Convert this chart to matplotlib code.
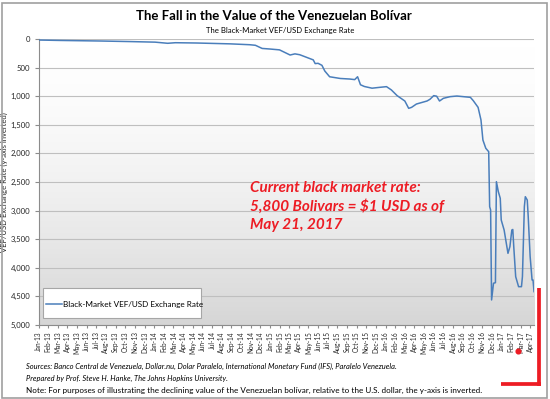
import numpy as np
import matplotlib.pyplot as plt
from matplotlib.patches import Rectangle
from matplotlib.lines import Line2D
from matplotlib.colors import LinearSegmentedColormap
from matplotlib.ticker import FuncFormatter, MultipleLocator

plt.rcParams['font.family'] = ['Lato', 'DejaVu Sans']

# tick labels: Jan-13 ... Apr-17
month_names = ['Jan', 'Feb', 'Mar', 'Apr', 'May', 'Jun',
               'Jul', 'Aug', 'Sep', 'Oct', 'Nov', 'Dec']
years = ['13', '14', '15', '16', '17']
tick_labels = [f"{m}-{y}" for y in years for m in month_names][:52]

# months since Jan-2013, and black-market rate (VEF per USD)
months = [0.0, 2.2, 6.4, 9.5, 12.1, 13.4, 14.2, 16.4, 19.9, 21.9,
          22.5, 23.2, 24.0, 25.0, 26.1, 26.6, 27.1, 28.5, 28.7, 29.0,
          29.4, 29.7, 30.2, 31.3, 32.3, 32.8, 33.1, 33.4, 33.8, 34.6,
          35.4, 36.1, 36.6, 37.2, 38.0, 38.4, 38.7, 39.2, 40.3, 40.6,
          41.0, 41.3, 41.6, 42.0, 42.7, 43.4, 44.8, 45.1, 45.6, 45.9,
          46.1, 46.4, 46.7, 46.8, 46.9, 47.0, 47.2, 47.4, 47.5, 47.7,
          47.9, 48.0, 48.3, 48.5, 48.7, 48.9, 49.1, 49.2, 49.3, 49.5,
          49.8, 50.1, 50.2, 50.4, 50.5, 50.7, 50.8, 51.0, 51.2, 51.3,
          51.4]
rate = [18, 25, 35, 45, 55, 75, 65, 70, 85, 100,
        110, 165, 175, 190, 280, 260, 275, 365, 430, 425,
        460, 560, 660, 690, 700, 710, 660, 800, 830, 860,
        845, 833, 890, 990, 1084, 1212, 1195, 1137, 1084, 1055,
        990, 1000, 1084, 1037, 1008, 997, 1020, 1078, 1195, 1416,
        1766, 1911, 1970, 2931, 2990, 4562, 4270, 4260, 2494, 2669,
        2785, 3164, 3339, 3543, 3747, 3630, 3339, 3330, 3630, 4155,
        4330, 4330, 4155, 2931, 2757, 2815, 3106, 3805, 4213, 4213,
        4417]

W, H = 550, 399
fig = plt.figure(figsize=(5.5, 3.99), dpi=100)
ax = fig.add_axes([38.5 / W, 1 - 325 / H, (534 - 38.5) / W, (325 - 39) / H])

# background gradient of the plot area
grad = np.linspace(0, 1, 256).reshape(-1, 1) ** 1.6
cmap = LinearSegmentedColormap.from_list('bg', ['#ffffff', '#d6d6d6'])
ax.imshow(grad, cmap=cmap, extent=[0, 1, 0, 1], transform=ax.transAxes,
          aspect='auto', zorder=0)

ax.plot(months, rate, color='#4a7ebb', lw=1.1, zorder=3,
        label='Black-Market VEF/USD Exchange Rate')

ax.set_xlim(0, 51.4)
ax.set_ylim(5000, 0)
ax.yaxis.set_major_locator(MultipleLocator(500))
ax.yaxis.set_major_formatter(FuncFormatter(lambda v, p: f"{int(v):,}"))
ax.grid(axis='y', color='#bfbfbf', lw=0.8, zorder=1)
ax.set_axisbelow(True)

ax.set_xticks(range(52))
ax.set_xticklabels(tick_labels, rotation=90, fontsize=4.7, color='#262626')
ax.tick_params(axis='x', length=2.5, color='#8c8c8c', pad=2)
ax.tick_params(axis='y', length=3, color='#8c8c8c', labelsize=5.6,
               labelcolor='#262626', pad=3)
for s in ['top', 'right']:
    ax.spines[s].set_visible(False)
for s in ['left', 'bottom']:
    ax.spines[s].set_color('#8c8c8c')
    ax.spines[s].set_linewidth(0.8)

ax.set_ylabel('VEF/USD Exchange Rate (y-axis inverted)', fontsize=5.5,
              color='#262626', labelpad=2)
ax.yaxis.set_label_coords(-31 / 495.5, 0.5)

# legend: white box, frameless legend inside
ax.add_patch(Rectangle((0.0097, 0.0245), 0.318, 0.104, transform=ax.transAxes,
                       facecolor='white', edgecolor='#a6a6a6', lw=0.8, zorder=4))
leg = ax.legend(loc='center left', bbox_to_anchor=(0.0151, 0.0734),
                fontsize=5.85, frameon=False, handlelength=2.0,
                handletextpad=0.1, borderpad=0, borderaxespad=0)
leg.set_zorder(5)

# titles
fig.text(274 / W, 1 - 16.5 / H, 'The Fall in the Value of the Venezuelan Bolívar',
         ha='center', va='center', fontsize=9.5, fontweight='bold', color='#000000')
fig.text(280 / W, 1 - 31 / H, 'The Black-Market VEF/USD Exchange Rate',
         ha='center', va='center', fontsize=5.6, color='#000000')

# red annotation
red = '#ed1c24'
ann = ['Current black market rate:',
       '5,800 Bolivars = $1 USD as of',
       'May 21, 2017']
for i, t in enumerate(ann):
    fig.text(250 / W, 1 - (191.7 + 18.8 * i) / H, t, ha='left', va='baseline',
             fontsize=11, fontweight='bold', style='italic', color=red)

# footnotes
fig.text(26 / W, 1 - 366.5 / H,
         'Sources: Banco Central de Venezuela, Dollar.nu, Dolar Paralelo, '
         'International Monetary Fund (IFS), Paralelo Venezuela.',
         ha='left', va='center', fontsize=5.45, style='italic', color='#000000')
fig.text(26 / W, 1 - 378.3 / H,
         'Prepared by Prof. Steve H. Hanke, The Johns Hopkins University.',
         ha='left', va='center', fontsize=5.45, style='italic', color='#000000')
fig.text(26 / W, 1 - 390 / H,
         'Note: For purposes of illustrating the declining value of the Venezuelan '
         'bolívar, relative to the U.S. dollar, the y-axis is inverted.',
         ha='left', va='center', fontsize=5.9, color='#000000')

# red bracket and dot
fig.add_artist(Line2D([539 / W, 539 / W], [1 - 288 / H, 1 - 386 / H],
                      color=red, lw=2.7, solid_capstyle='butt'))
fig.add_artist(Line2D([501 / W, 540.8 / W], [1 - 384 / H, 1 - 384 / H],
                      color=red, lw=2.7, solid_capstyle='butt'))
fig.add_artist(Line2D([518.3 / W], [1 - 350.7 / H], marker='o', markersize=3.4,
                      color=red, lw=0))

# outer frame
fig.add_artist(Rectangle((1.5 / W, 1.5 / H), 545 / W, 395 / H, fill=False,
                         edgecolor='#a0a0a0', lw=1.2, transform=fig.transFigure))

fig.savefig('out.png', dpi=100)
